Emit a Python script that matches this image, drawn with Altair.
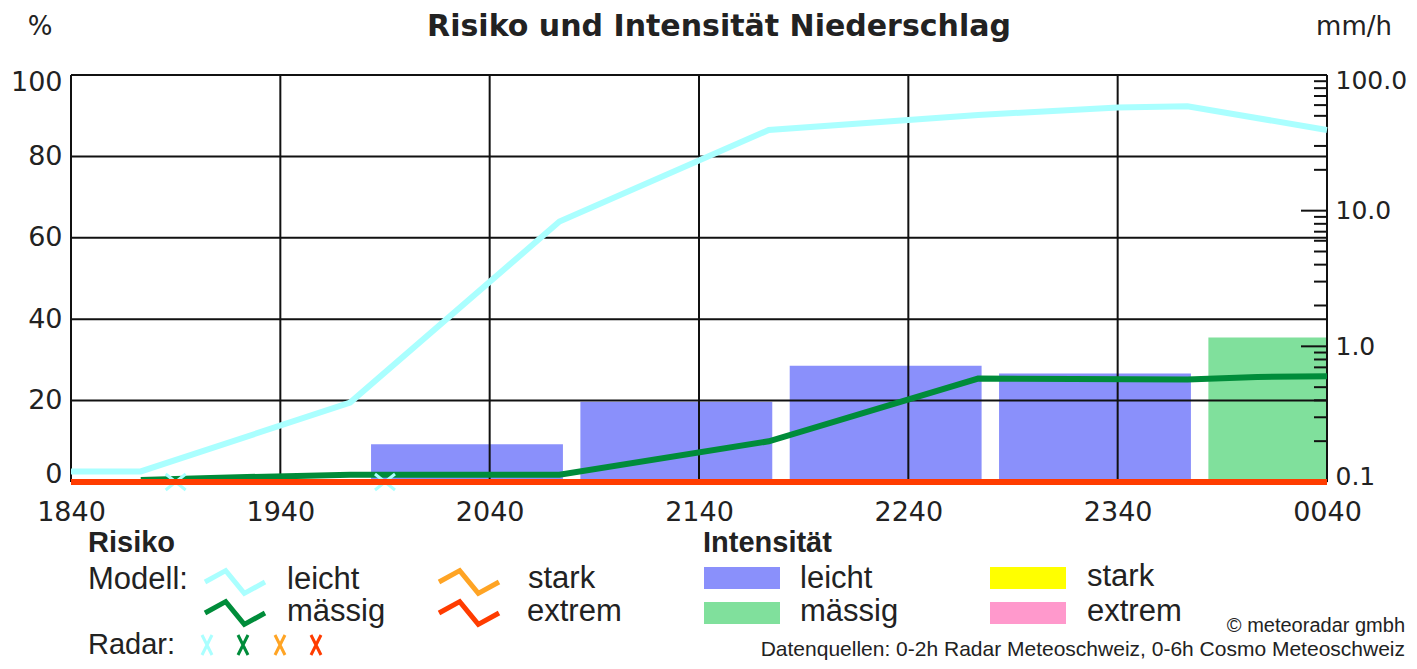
import altair as alt
import pandas as pd

# ------------------------------------------------------------------ data
X_TICK_LABELS = ["1840", "1940", "2040", "2140", "2240", "2340", "0040"]
X_TICK_STEP = 60          # minutes between labelled ticks
START = "18:40"
Y_LEFT_TICKS = [0, 20, 40, 60, 80, 100]
Y_RIGHT_LABELS = [0.1, 1, 10, 100]
Y_RIGHT_MAJOR = [1, 10]
Y_RIGHT_MINOR = [0.2, 0.3, 0.4, 0.5, 0.6, 0.7, 0.8, 0.9,
                 2, 3, 4, 5, 6, 7, 8, 9,
                 20, 30, 40, 50, 60, 70, 80, 90]

# Risiko (model) in %
leicht_times = ["18:40", "19:00", "20:00", "21:00", "22:00", "23:00", "23:40", "00:00", "00:40"]
leicht_pct = [2.6, 2.6, 19.5, 64.0, 86.5, 90.2, 92.0, 92.3, 86.5]

maessig_times = ["19:00", "19:20", "20:00", "21:00", "22:00", "23:00", "00:00", "00:20", "00:40"]
maessig_pct = [0.5, 1.0, 1.8, 1.8, 10.0, 25.4, 25.2, 25.8, 26.0]

stark_times = ["18:40", "00:40"]
stark_pct = [0.0, 0.0]

extrem_times = ["18:40", "00:40"]
extrem_pct = [0.0, 0.0]

# Risiko (radar) markers
radar_times = ["19:10", "20:10"]
radar_pct = [0.0, 0.0]

# Intensität in mm/h (hourly bars)
bar_start = ["20:06", "21:06", "22:06", "23:06", "00:06"]
bar_end = ["21:01", "22:01", "23:01", "00:01", "01:00"]
bar_mmh = [0.19, 0.39, 0.72, 0.63, 1.16]
bar_class = ["leicht", "leicht", "leicht", "leicht", "mässig"]

RISK_COLORS = {"leicht": "#aaffff", "mässig": "#008c3a", "stark": "#ffa424", "extrem": "#ff3c00"}
INT_COLORS = {"leicht": "#8a90fb", "mässig": "#80e09c", "stark": "#ffff00", "extrem": "#ff99cc"}

# ------------------------------------------------------------------ helpers
def mins(t):
    h, m = map(int, t.split(":"))
    h0, m0 = map(int, START.split(":"))
    v = h * 60 + m - (h0 * 60 + m0)
    return v + 1440 if v < 0 else v

W, H = 1256, 407
OX, OY = 71, 75           # page position of plot origin
XMAX = X_TICK_STEP * (len(X_TICK_LABELS) - 1)
ONE = pd.DataFrame({"k": [0]})

label_list = "[" + ",".join("'%s'" % s for s in X_TICK_LABELS) + "]"
x_axis = alt.Axis(values=[i * X_TICK_STEP for i in range(len(X_TICK_LABELS))],
                  labelExpr=f"{label_list}[round(datum.value/{X_TICK_STEP})]",
                  title=None, grid=False, ticks=False, domain=False, labelFlush=False,
                  labelFont="DejaVu Sans", labelFontSize=27, labelColor="#222",
                  labelPadding=17, labelOverlap=False)
x_scale = alt.Scale(domain=[0, XMAX], nice=False, zero=False)

pct_axis = alt.Axis(orient="left", values=Y_LEFT_TICKS, title=None, grid=False, ticks=False,
                    domain=False, labelFlush=True, labelFlushOffset=6, labelFont="DejaVu Sans",
                    labelFontSize=27, labelColor="#222", labelPadding=9)
pct_scale = alt.Scale(domain=[0, 100], nice=False, zero=False)

log_axis = alt.Axis(orient="right", values=Y_RIGHT_LABELS, format=".1f", title=None, grid=False,
                    ticks=False, domain=False, labelFlush=True, labelFlushOffset=7,
                    labelFont="DejaVu Sans", labelFontSize=25, labelColor="#222", labelPadding=8)
log_scale = alt.Scale(type="log", domain=[0.1, 100], nice=False)


def X(field="t"):
    return alt.X(f"{field}:Q", scale=x_scale, axis=x_axis)


def line_df(times, vals):
    return pd.DataFrame({"t": [mins(t) for t in times], "pct": vals})


# ------------------------------------------------------------------ log (intensity) group
bars_df = pd.DataFrame({"t": [mins(t) for t in bar_start],
                        "t2": [mins(t) for t in bar_end],
                        "mmh": bar_mmh, "cls": bar_class})
bars = alt.Chart(bars_df).mark_rect(clip=True).encode(
    x=X(), x2="t2:Q",
    y=alt.Y("mmh:Q", scale=log_scale, axis=log_axis),
    y2=alt.datum(0.1),
    color=alt.Color("cls:N", scale=alt.Scale(domain=list(INT_COLORS), range=list(INT_COLORS.values())),
                    legend=None),
)
minor = alt.Chart(pd.DataFrame({"v": Y_RIGHT_MINOR})).mark_rule(color="#111", strokeWidth=2).encode(
    y=alt.Y("v:Q", scale=log_scale, axis=log_axis), x=alt.value(W - 13), x2=alt.value(W))
major = alt.Chart(pd.DataFrame({"v": Y_RIGHT_MAJOR})).mark_rule(color="#111", strokeWidth=2).encode(
    y=alt.Y("v:Q", scale=log_scale, axis=log_axis), x=alt.value(W - 26), x2=alt.value(W))
log_group = alt.layer(bars, minor, major)

# ------------------------------------------------------------------ percent (risk) group
vgrid = alt.Chart(pd.DataFrame({"t": [i * X_TICK_STEP for i in range(len(X_TICK_LABELS))]})
                  ).mark_rule(color="#111", strokeWidth=2).encode(x=X())
hgrid = alt.Chart(pd.DataFrame({"pct": Y_LEFT_TICKS})).mark_rule(color="#111", strokeWidth=2).encode(
    y=alt.Y("pct:Q", scale=pct_scale, axis=pct_axis))

XPATH = "M-1,-0.8L1,0.8M1,-0.8L-1,0.8"
radar = alt.Chart(line_df(radar_times, radar_pct)).mark_point(
    shape=XPATH, size=400, filled=False, strokeWidth=3, color=RISK_COLORS["leicht"], opacity=1
).encode(x=X(), y=alt.Y("pct:Q", scale=pct_scale, axis=pct_axis))


def risk_line(times, vals, cls, width):
    return alt.Chart(line_df(times, vals)).mark_line(
        color=RISK_COLORS[cls], strokeWidth=width, strokeJoin="miter"
    ).encode(x=X(), y=alt.Y("pct:Q", scale=pct_scale, axis=pct_axis))


pct_group = alt.layer(
    vgrid, hgrid,
    risk_line(leicht_times, leicht_pct, "leicht", 6),
    risk_line(maessig_times, maessig_pct, "mässig", 6),
    radar,
    risk_line(stark_times, stark_pct, "stark", 6),
    risk_line(extrem_times, extrem_pct, "extrem", 6),
)

# ------------------------------------------------------------------ texts & legend
def txt(s, x, y, size, bold=False, align="left", font="Liberation Sans", color="#222"):
    return alt.Chart(ONE).mark_text(
        text=s, align=align, baseline="middle", fontSize=size,
        fontWeight="bold" if bold else "normal", font=font, color=color
    ).encode(x=alt.value(x - OX), y=alt.value(y - OY))


ZIG = "M-1,0L-0.31,-0.38L0.31,0.38L1,0"


def zig(x, y, color):
    return alt.Chart(ONE).mark_point(shape=ZIG, size=3600, filled=False, strokeWidth=5,
                                     color=color, opacity=1, strokeJoin="miter").encode(
        x=alt.value(x - OX), y=alt.value(y - OY))


def cross(x, y, color):
    return alt.Chart(ONE).mark_point(shape="M-0.5,-1L0.5,1M0.5,-1L-0.5,1", size=400, filled=False,
                                     strokeWidth=3, color=color, opacity=1).encode(
        x=alt.value(x - OX), y=alt.value(y - OY))


def swatch(x, y, color):
    return alt.Chart(ONE).mark_rect(color=color).encode(
        x=alt.value(x - OX), x2=alt.value(x + 76 - OX), y=alt.value(y - 11 - OY), y2=alt.value(y + 11 - OY))


annot = [
    txt("Risiko und Intensität Niederschlag", 719, 27, 30, bold=True, align="center", font="DejaVu Sans"),
    txt("%", 40, 27, 26, align="center", font="DejaVu Sans"),
    txt("mm/h", 1392, 27, 26, align="right", font="DejaVu Sans"),
    txt("Risiko", 88, 543, 29, bold=True),
    txt("Modell:", 88, 580, 31),
    zig(235, 582, RISK_COLORS["leicht"]), txt("leicht", 287, 580, 31),
    zig(235, 613, RISK_COLORS["mässig"]), txt("mässig", 287, 612, 31),
    zig(469, 582, RISK_COLORS["stark"]), txt("stark", 528, 579, 31),
    zig(469, 613, RISK_COLORS["extrem"]), txt("extrem", 527, 612, 31),
    txt("Radar:", 88, 645, 29),
    cross(207, 645, RISK_COLORS["leicht"]), cross(243, 645, RISK_COLORS["mässig"]),
    cross(280, 645, RISK_COLORS["stark"]), cross(316, 645, RISK_COLORS["extrem"]),
    txt("Intensität", 703, 543, 29, bold=True),
    swatch(704, 578, INT_COLORS["leicht"]), txt("leicht", 800, 579, 31),
    swatch(704, 613, INT_COLORS["mässig"]), txt("mässig", 800, 612, 31),
    swatch(990, 578, INT_COLORS["stark"]), txt("stark", 1087, 577, 31),
    swatch(990, 613, INT_COLORS["extrem"]), txt("extrem", 1087, 612, 31),
    txt("© meteoradar gmbh", 1405, 626, 20, align="right"),
    txt("Datenquellen: 0-2h Radar Meteoschweiz, 0-6h Cosmo Meteoschweiz", 1405, 650, 21, align="right"),
]

chart = alt.layer(log_group, pct_group, *annot).resolve_scale(y="independent").properties(
    width=W, height=H,
    padding={"left": 63, "top": 67, "right": 80, "bottom": 179},
    autosize=alt.AutoSizeParams(type="none"),
).configure_view(stroke=None).configure(background="white")

chart.save("out.html", embed_options={"renderer": "svg", "actions": False})
